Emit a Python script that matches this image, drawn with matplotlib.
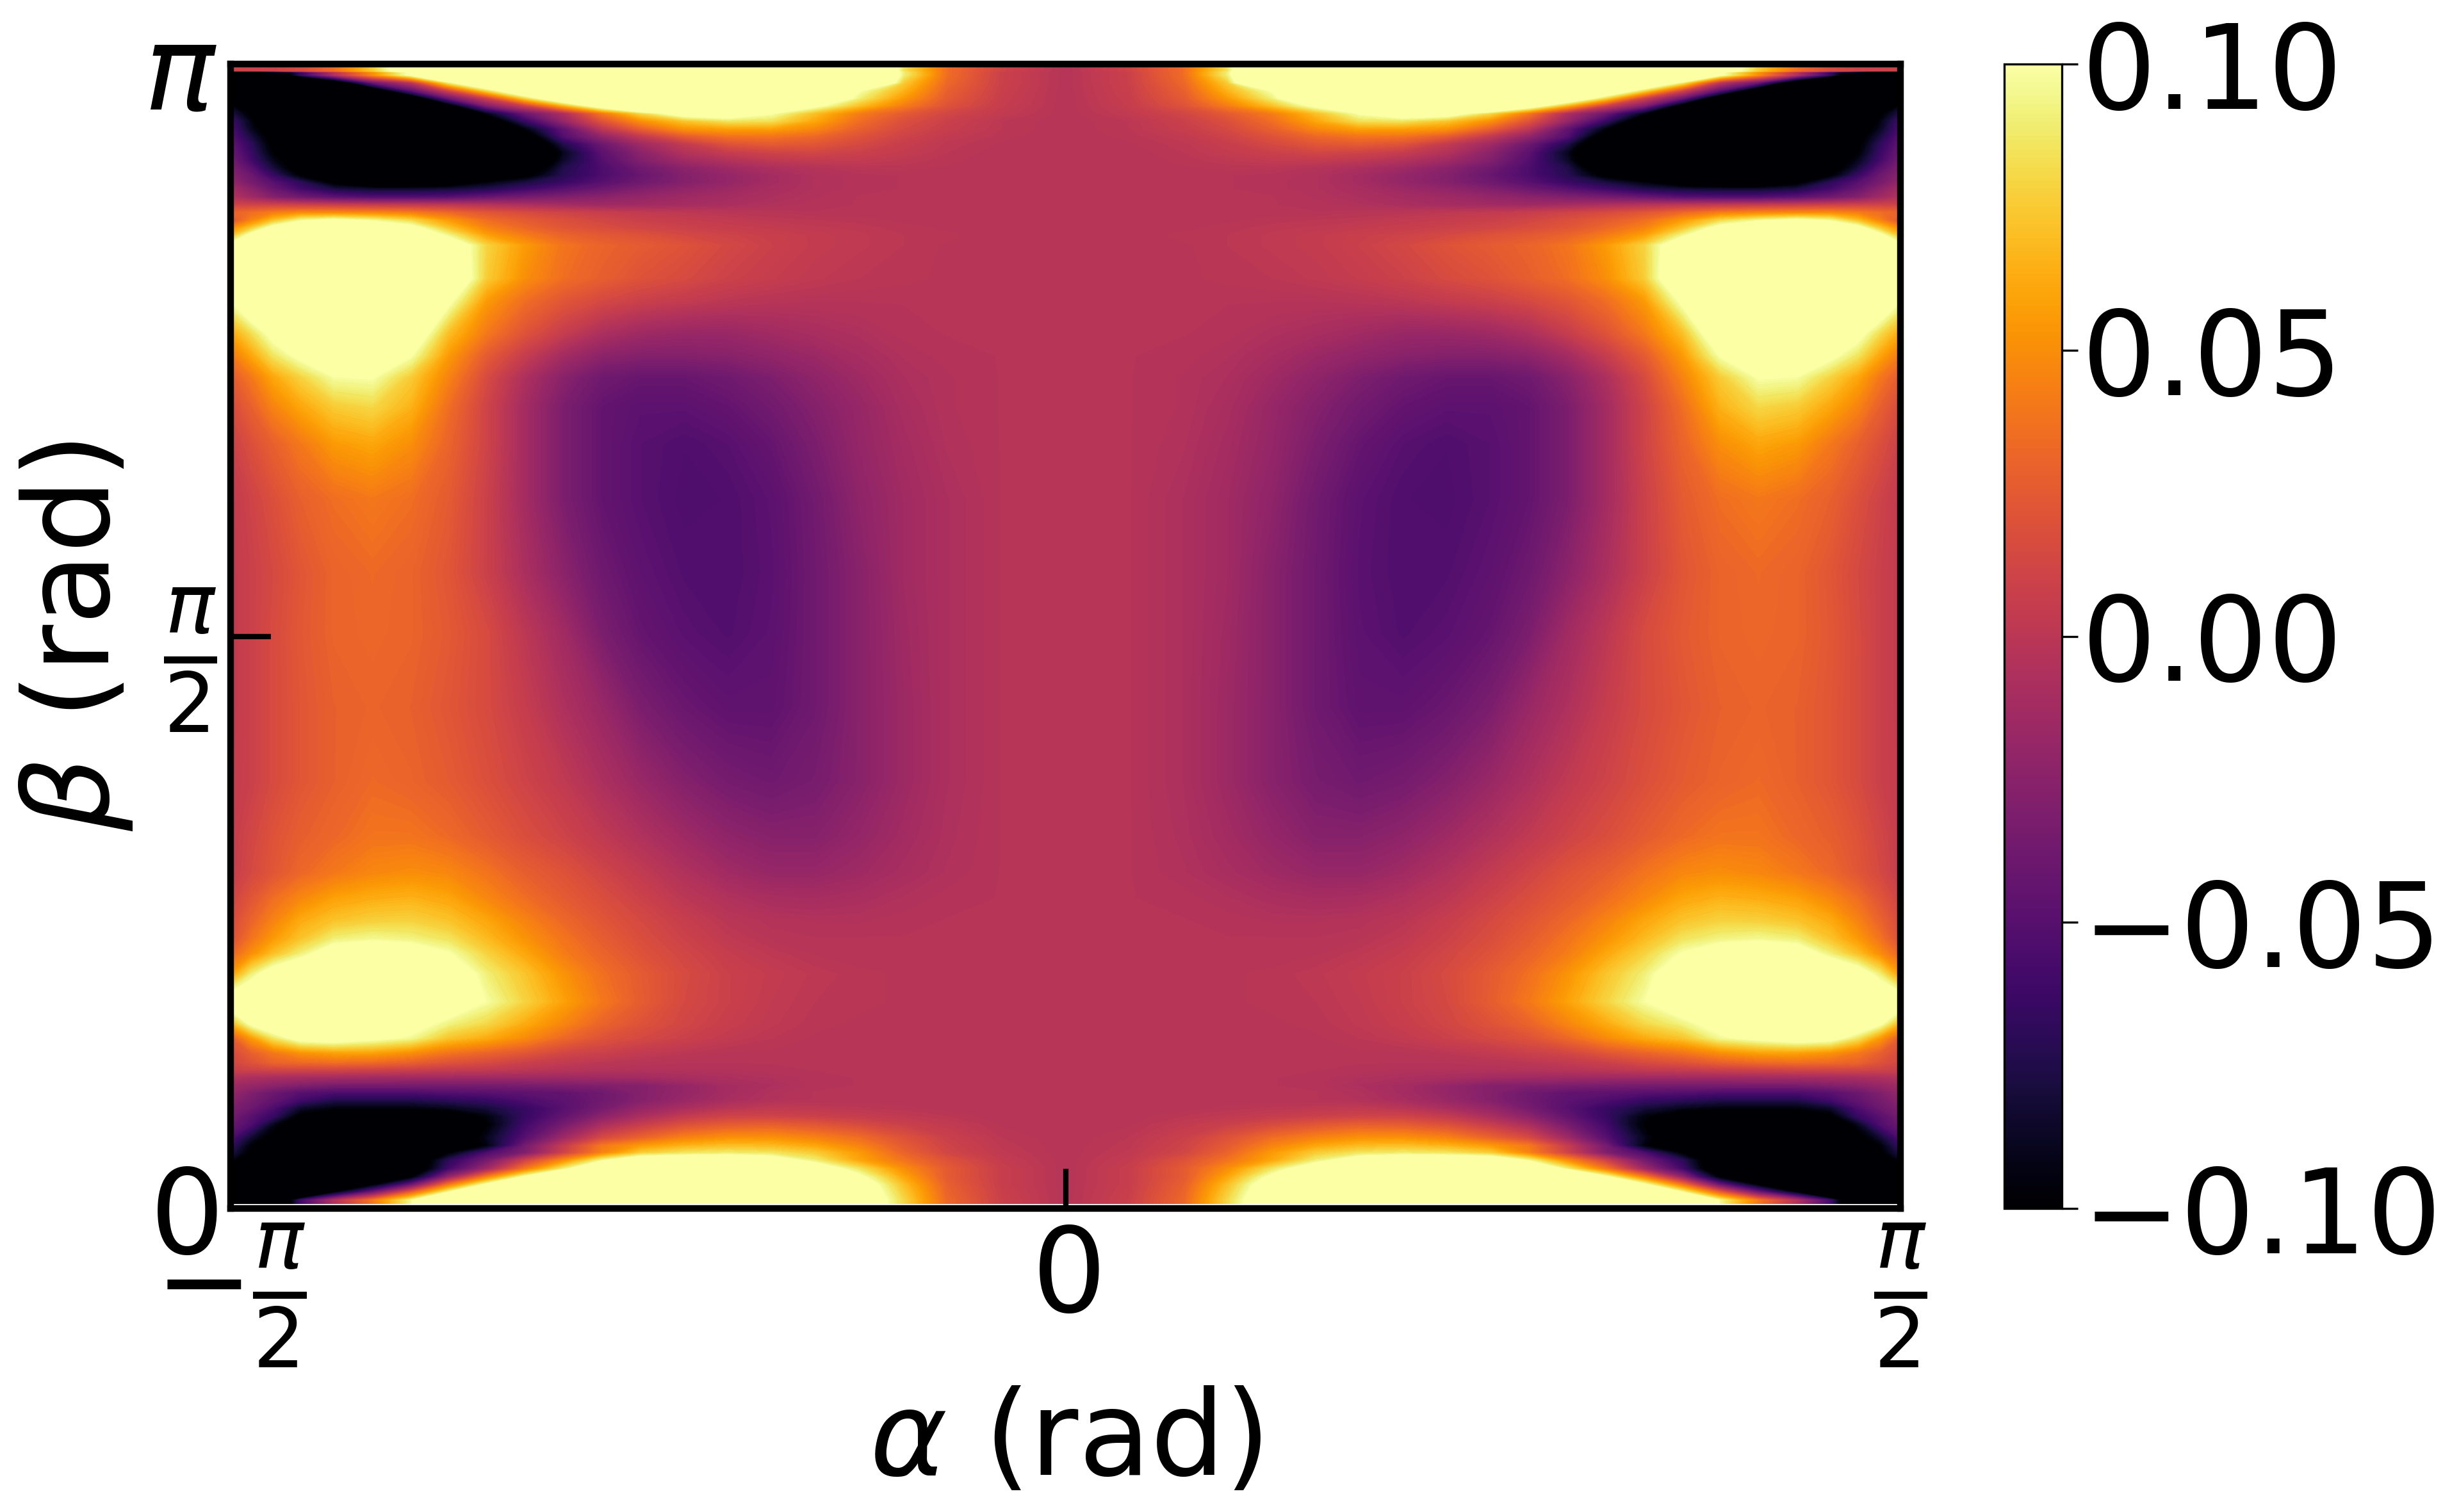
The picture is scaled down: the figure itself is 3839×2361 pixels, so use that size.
import numpy as np
import matplotlib
matplotlib.use('Agg')
import matplotlib.pyplot as plt
from matplotlib.colors import Normalize
from matplotlib.cm import ScalarMappable

# values, in units of 0.001; colour saturates past +-100
# left half only, the right half of the map reads as its mirror image
alpha_left = [-1.0,-0.975,-0.949,-0.916,-0.876,-0.830,-0.784,-0.739,-0.693,-0.647,-0.601,
              -0.555,-0.509,-0.457,-0.404,-0.352,-0.300,-0.247,-0.194,-0.142,-0.076,0.0]  # units of pi/2

beta_rows = [1.0,0.994,0.9927,0.9905,0.9838,0.9767,0.9703,0.9636,0.9569,0.9502,0.9435,0.9368,0.9301,
             0.9228,0.9155,0.9093,0.9026,0.8965,0.8909,0.8836,0.8769,0.8702,0.8635,0.8567,0.85,0.8416,
             0.8131,0.7935,0.765,0.7454,0.7264,0.7006,0.6682,0.62,0.5557,0.502,0.4376,0.3732,0.3251,
             0.2932,0.2708,0.2513,0.2356,0.2227,0.2048,0.1807,0.1617,0.1489,0.136,0.1276,0.1214,0.1147,
             0.1074,0.1013,0.0946,0.0879,0.0806,0.0733,0.0616,0.0548,0.0487,0.042,0.0347,0.0274,0.0207,
             0.0145,0.0073,0.004]  # units of pi

signal_left = [
 [10,10,10,15,35,75,130,200,200,200,200,200,200,200,200,200,200,200,85,35,10,-3],
 [10,10,10,15,35,75,130,200,200,200,200,200,200,200,200,200,200,200,85,35,10,-3],
 [-250,-220,-150,-65,-5,50,105,200,200,200,200,200,200,200,200,200,200,200,90,35,8,-3],
 [-250,-220,-150,-65,-5,50,105,200,200,200,200,200,200,200,200,200,200,200,90,35,8,-3],
 [-300,-280,-250,-200,-130,-40,0,90,150,200,200,200,200,200,200,200,200,200,75,32,8,-3],
 [-300,-300,-280,-250,-200,-130,-50,10,80,140,200,200,200,200,200,200,200,100,65,28,7,-3],
 [-300,-300,-300,-300,-250,-190,-125,-40,10,80,140,200,200,200,200,200,150,90,55,25,6,-3],
 [-90,-200,-300,-300,-300,-250,-180,-110,-30,8,65,120,170,200,200,150,105,70,42,20,5,-3],
 [-75,-105,-250,-300,-300,-250,-200,-150,-92,-40,-8,40,80,115,120,100,70,42,25,12,3,-3],
 [-60,-95,-200,-300,-300,-280,-230,-170,-125,-65,-20,20,50,72,85,83,60,35,18,8,0,-3],
 [-55,-90,-120,-300,-300,-280,-240,-200,-160,-95,-45,0,28,52,58,58,47,28,14,6,0,-3],
 [-50,-80,-110,-300,-300,-300,-260,-220,-180,-120,-52,-22,2,25,37,38,32,20,10,3,-1,-3],
 [-45,-70,-105,-300,-300,-300,-280,-240,-200,-140,-75,-40,-15,3,20,25,22,14,6,1,-2,-3],
 [-40,-65,-100,-130,-280,-280,-280,-250,-220,-160,-90,-48,-25,-5,5,10,12,8,4,0,-3,-3],
 [-35,-60,-90,-120,-250,-280,-280,-250,-220,-150,-85,-52,-30,-15,-6,0,3,3,1,-1,-3,-3],
 [-30,-50,-80,-115,-220,-250,-250,-220,-190,-130,-75,-55,-38,-25,-15,-8,-4,-1,-1,-2,-3,-3],
 [-25,-40,-65,-100,-170,-200,-200,-190,-150,-105,-72,-55,-42,-28,-20,-12,-6,-4,-3,-3,-3,-3],
 [-20,-35,-50,-70,-105,-130,-130,-120,-95,-78,-64,-50,-38,-28,-20,-12,-6,-4,-3,-3,-3,-3],
 [-12,-25,-42,-60,-78,-85,-85,-82,-75,-62,-50,-40,-30,-22,-16,-10,-6,-4,-3,-3,-3,-3],
 [-5,-15,-28,-38,-47,-52,-52,-50,-42,-35,-30,-25,-20,-15,-12,-8,-5,-3,-3,-3,-3,-3],
 [10,10,10,8,6,4,2,0,-4,-8,-12,-15,-14,-12,-9,-6,-4,-3,-3,-3,-3,-3],
 [30,35,42,48,48,46,42,32,22,15,10,6,3,1,-1,-2,-3,-3,-3,-3,-3,-3],
 [20,45,70,95,105,95,80,55,35,25,18,12,8,5,3,1,0,-1,-2,-3,-3,-3],
 [48,75,110,125,130,125,110,72,45,32,22,17,12,9,6,4,2,1,-1,-2,-3,-3],
 [70,110,130,140,140,140,125,95,58,42,30,24,20,14,10,7,4,2,0,-1,-3,-3],
 [105,135,150,150,150,150,150,125,78,55,38,30,25,20,13,8,4,2,0,-2,-3,-3],
 [115,150,150,150,150,150,150,135,75,50,35,27,20,15,9,5,2,0,-1,-2,-3,-3],
 [100,130,150,150,150,150,140,105,55,35,22,14,8,4,0,-2,-3,-3,-3,-3,-3,-3],
 [60,82,108,150,150,150,125,70,40,20,5,-8,-15,-18,-18,-14,-10,-7,-4,-3,-3,-3],
 [40,60,85,105,130,125,100,55,25,5,-13,-24,-28,-28,-26,-22,-17,-11,-6,-4,-3,-3],
 [25,40,60,78,98,100,75,45,15,-8,-26,-38,-42,-42,-38,-31,-23,-15,-8,-5,-3,-3],
 [15,28,45,60,75,80,65,35,10,-13,-32,-44,-48,-48,-44,-37,-28,-19,-10,-5,-3,-3],
 [8,18,28,40,55,60,50,30,10,-13,-32,-44,-50,-53,-50,-43,-32,-20,-12,-6,-3,-3],
 [3,10,18,28,35,40,35,25,8,-13,-32,-44,-50,-54,-53,-48,-37,-23,-14,-8,-3,-3],
 [3,8,14,22,30,33,30,22,8,-9,-25,-39,-47,-52,-53,-49,-38,-26,-14,-8,-3,-3],
 [3,8,15,23,30,32,30,24,15,0,-14,-32,-43,-49,-52,-48,-38,-26,-15,-8,-3,-3],
 [3,8,15,22,28,30,28,22,15,5,-7,-18,-32,-41,-46,-46,-38,-26,-16,-8,-3,-3],
 [4,8,15,22,28,33,30,25,18,10,2,-8,-18,-28,-35,-38,-34,-26,-16,-8,-3,-3],
 [5,12,20,27,32,38,38,33,25,17,10,2,-6,-15,-23,-27,-27,-20,-13,-7,-3,-3],
 [5,14,22,32,40,47,50,47,38,27,20,11,3,-6,-14,-19,-19,-15,-10,-6,-3,-3],
 [10,22,35,47,58,63,65,60,47,35,25,17,9,0,-6,-10,-11,-9,-6,-4,-3,-3],
 [15,30,45,62,72,77,78,72,60,45,32,22,14,6,-1,-4,-5,-5,-4,-3,-3,-3],
 [18,38,55,72,90,95,92,85,68,52,38,26,17,9,2,-2,-3,-3,-3,-3,-3,-3],
 [30,50,70,90,115,120,115,100,78,60,42,30,20,12,5,1,-2,-3,-3,-3,-3,-3],
 [55,90,115,130,130,130,130,120,90,72,52,36,25,15,8,4,1,-1,-2,-3,-3,-3],
 [120,130,130,130,130,130,130,120,98,78,58,40,26,14,8,3,0,-1,-2,-3,-3,-3],
 [65,105,125,125,125,125,110,92,80,62,46,30,20,12,6,2,-1,-2,-3,-3,-3,-3],
 [25,55,85,110,115,105,95,72,62,48,32,20,14,8,3,0,-2,-3,-3,-3,-3,-3],
 [15,28,40,52,58,58,50,38,30,22,12,8,3,0,-2,-2,-3,-3,-3,-3,-3,-3],
 [12,20,30,33,35,33,28,20,15,8,3,0,-2,-3,-3,-3,-3,-3,-3,-3,-3,-3],
 [8,10,12,12,12,10,8,5,3,0,-3,-4,-5,-5,-5,-4,-3,-3,-3,-3,-3,-3],
 [-5,-8,-10,-11,-12,-13,-14,-14,-15,-15,-15,-14,-13,-10,-8,-6,-4,-3,-3,-3,-3,-3],
 [-15,-20,-25,-30,-35,-35,-35,-35,-35,-34,-32,-30,-28,-20,-12,-8,-4,-3,-3,-3,-3,-3],
 [-20,-30,-40,-50,-55,-55,-55,-52,-50,-47,-45,-38,-28,-20,-12,-6,-3,-3,-3,-3,-3,-3],
 [-25,-35,-45,-60,-75,-75,-75,-70,-65,-55,-48,-38,-28,-18,-10,-5,-3,-3,-3,-3,-3,-3],
 [-30,-40,-55,-85,-95,-95,-95,-90,-80,-65,-50,-35,-20,-10,-2,2,1,0,-1,-3,-3,-3],
 [-35,-50,-65,-105,-120,-120,-120,-120,-95,-65,-45,-25,-10,3,10,10,8,5,2,0,-3,-3],
 [-40,-55,-90,-130,-130,-130,-130,-125,-100,-60,-35,-10,5,18,25,27,22,15,8,3,-2,-3],
 [-55,-85,-110,-140,-140,-140,-140,-130,-90,-50,-15,15,30,45,52,52,45,35,20,8,0,-3],
 [-65,-100,-130,-140,-140,-140,-140,-130,-95,-35,5,40,55,65,70,68,60,45,25,10,1,-3],
 [-75,-105,-140,-150,-150,-150,-140,-100,-55,-30,10,45,75,85,88,85,75,55,30,12,2,-3],
 [-90,-140,-150,-150,-150,-150,-130,-70,-35,10,50,95,125,125,125,115,90,60,38,20,4,-3],
 [-150,-150,-150,-150,-150,-150,-130,-60,-15,40,90,150,150,150,150,150,120,85,50,25,6,-3],
 [-200,-200,-200,-200,-200,-170,-100,-20,45,105,180,180,180,180,180,180,150,105,60,25,6,-3],
 [-200,-200,-200,-200,-170,-100,-40,40,105,170,180,180,180,180,180,180,160,120,70,28,6,-3],
 [-200,-200,-200,-200,-100,-40,25,95,170,200,200,200,200,200,200,200,170,125,75,30,7,-3],
 [-200,-200,-170,-60,-5,40,95,180,200,200,200,200,200,200,200,200,175,130,80,32,8,-3],
 [-200,-200,-170,-60,-5,40,95,180,200,200,200,200,200,200,200,200,175,130,80,32,8,-3],
]

cbar_ticks = [-0.1, -0.05, 0, 0.05, 0.1]
cbar_labels = ['\u22120.10', '\u22120.05', '0.00', '0.05', '0.10']

alpha = np.concatenate([alpha_left, -np.array(alpha_left)[-2::-1]]) * np.pi / 2
beta = np.array(beta_rows) * np.pi
left = np.array(signal_left) / 1000
signal = np.hstack([left, left[:, -2::-1]])

plt.rcParams['mathtext.fontset'] = 'dejavusans'
fig = plt.figure(figsize=(3839 / 300, 2361 / 300), dpi=300)
ax = fig.add_axes([360 / 3839, (2361 - 1887) / 2361, 2607 / 3839, 1787 / 2361])

levels = np.linspace(-0.1, 0.1, 129)
ax.contourf(alpha, beta, signal, levels=levels, cmap='inferno', extend='both')
ax.set_xlim(-np.pi / 2, np.pi / 2)
ax.set_ylim(0, np.pi)

ax.set_xticks([-np.pi / 2, 0, np.pi / 2])
ax.set_xticklabels([r'$-\frac{\pi}{2}$', r'$0$', r'$\frac{\pi}{2}$'])
ax.set_yticks([0, np.pi / 2, np.pi])
ax.set_yticklabels([r'$0$', r'$\frac{\pi}{2}$', r'$\pi$'])
ax.tick_params(direction='in', length=15, width=2, labelsize=44, pad=5)
for s in ax.spines.values():
    s.set_linewidth(2.5)
ax.set_xlabel(r'$\alpha$ (rad)', fontsize=44, labelpad=6)
ax.set_ylabel(r'$\beta$ (rad)', fontsize=44, labelpad=3.5)

cax = fig.add_axes([3129 / 3839, (2361 - 1887) / 2361, 90 / 3839, 1787 / 2361])
sm = ScalarMappable(norm=Normalize(-0.1, 0.1), cmap='inferno')
cbar = fig.colorbar(sm, cax=cax, ticks=cbar_ticks)
cbar.ax.set_yticklabels(cbar_labels)
cbar.ax.tick_params(labelsize=44, length=6, width=0.8, pad=1.5)
cbar.outline.set_linewidth(0.8)

fig.savefig('out.png', dpi=300)
